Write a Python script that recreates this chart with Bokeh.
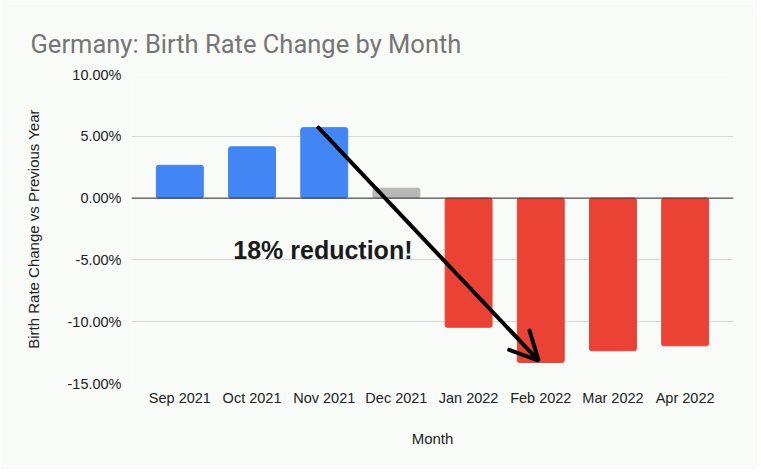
from bokeh.plotting import figure
from bokeh.models import (Range1d, FixedTicker, PrintfTickFormatter, Arrow, OpenHead,
                          Label, Span, ColumnDataSource)
from bokeh.embed import file_html
from bokeh.resources import INLINE

# ---- data ----
months = ["Sep 2021", "Oct 2021", "Nov 2021", "Dec 2021",
          "Jan 2022", "Feb 2022", "Mar 2022", "Apr 2022"]
change_pct = [2.65, 4.15, 5.7, 0.8, -10.45, -13.3, -12.35, -11.95]
bar_colors = ["#4285f4", "#4285f4", "#4285f4", "#b7b7b7",
              "#ea4335", "#ea4335", "#ea4335", "#ea4335"]
y_ticks = [-15, -10, -5, 0, 5, 10]
title_text = "Germany: Birth Rate Change by Month"
annotation_text = "18% reduction!"
arrow_from_month = "Nov 2021"
arrow_to_month = "Feb 2022"

TICK_FONT = "Liberation Sans"
x_pos = [i + 0.5 for i in range(len(months))]

src = ColumnDataSource(dict(x=x_pos, top=change_pct, color=bar_colors, month=months))

p = figure(width=757, height=469, output_backend="svg", toolbar_location=None,
           x_range=Range1d(-0.17, len(months) + 0.17),
           y_range=Range1d(min(y_ticks), max(y_ticks)),
           min_border_left=131, min_border_right=24, min_border_top=74,
           min_border_bottom=86, title=title_text)

bg = "#f9fbf9"
p.background_fill_color = bg
p.border_fill_color = bg
p.outline_line_color = None

p.title.text_font = "Roboto"
p.title.text_font_size = "25.5px"
p.title.text_font_style = "normal"
p.title.text_color = "#757575"
p.title.offset = -101
p.title.standoff = 32

p.vbar(x="x", top="top", bottom=0, width=0.65, color="color", source=src,
       border_radius=2)

zero = Span(location=0, dimension="width", line_color="#333333", line_width=1)
p.add_layout(zero)

# axes
p.xaxis.ticker = FixedTicker(ticks=x_pos)
p.xaxis.major_label_overrides = {x: m for x, m in zip(x_pos, months)}
p.yaxis.ticker = FixedTicker(ticks=y_ticks)
p.yaxis.formatter = PrintfTickFormatter(format="%.2f%%")
for ax in (p.xaxis, p.yaxis):
    ax.axis_line_color = None
    ax.major_tick_line_color = None
    ax.minor_tick_line_color = None
    ax.major_label_text_font = TICK_FONT
    ax.major_label_text_font_size = "14.5px"
    ax.major_label_text_color = "#222222"
    ax.axis_label_text_font = TICK_FONT
    ax.axis_label_text_font_size = "15px"
    ax.axis_label_text_font_style = "normal"
    ax.axis_label_text_color = "#222222"
p.xaxis.axis_label = "Month"
p.yaxis.axis_label = "Birth Rate Change vs Previous Year"
p.xaxis.major_label_standoff = 0
p.yaxis.major_label_standoff = 4
p.xaxis.axis_label_standoff = 21
p.yaxis.axis_label_standoff = 22

p.xgrid.grid_line_color = None
p.ygrid.grid_line_color = "#d6d6d6"
p.ygrid.grid_line_width = 1

# annotation arrow from Nov top to Feb bottom
i0 = months.index(arrow_from_month)
i1 = months.index(arrow_to_month)
arrow = Arrow(x_start=x_pos[i0] - 0.08, y_start=change_pct[i0],
              x_end=x_pos[i1] - 0.03, y_end=change_pct[i1] + 0.15,
              line_color="black", line_width=4, line_cap="round",
              end=OpenHead(size=28, line_color="black", line_width=4, line_cap="round"))
p.add_layout(arrow)

lbl = Label(x=1.24, y=-4.2, text=annotation_text, text_font=TICK_FONT,
            text_font_size="25px", text_font_style="bold", text_color="#1a1a1a",
            text_baseline="alphabetic")
p.add_layout(lbl)

open("out.html", "w").write(file_html(p, INLINE))
